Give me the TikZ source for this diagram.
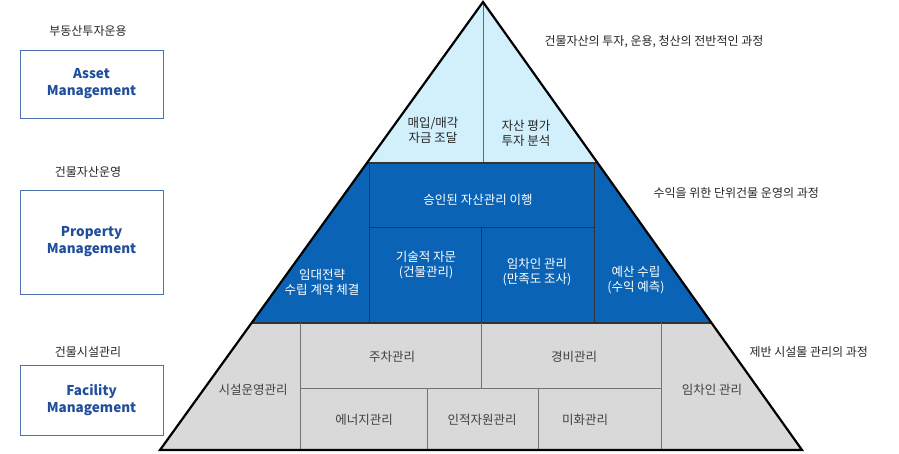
\documentclass[tikz,border=0pt]{standalone}
\usepackage{fontspec}
\setmainfont{Noto Sans CJK KR}
\definecolor{pmblue}{HTML}{0A63B5}
\definecolor{boxtxt}{HTML}{1F4E9C}
\begin{document}
\begin{tikzpicture}[x=1pt,y=-1pt,
  cell/.style={line width=0.8pt},
  wt/.style={text=white,font=\fontsize{12.5}{15}\selectfont,align=center},
  gt/.style={text=black!75,font=\fontsize{12.5}{15}\selectfont,align=center},
  ct/.style={text=black!85,font=\fontsize{12.5}{15}\selectfont,align=center},
  lab/.style={text=black!85,font=\fontsize{12}{14}\selectfont,anchor=west},
  mbox/.style={draw=boxtxt!80,line width=0.8pt,minimum width=143pt,text=boxtxt,font=\bfseries\fontsize{13.5}{17}\selectfont,align=center}]
\useasboundingbox (0,0) rectangle (899,453);
\fill[white] (0,0) rectangle (899,453);
% tiers
\fill[cyan!18] (483,2) -- (367,163) -- (598,163) -- cycle;
\fill[pmblue] (367,163) -- (252,323) -- (712,323) -- (598,163) -- cycle;
\fill[black!15] (252,323) -- (160,450) -- (802,450) -- (712,323) -- cycle;
% internal lines
\draw[cell,black!60] (483,2) -- (483,163);
\draw[line width=1.5pt,black!80] (367,163) -- (598,163);
\draw[cell,black!80] (369,163) -- (369,323) (594,163) -- (594,323) (369,227) -- (594,227) (481,227) -- (481,323);
\draw[line width=1.5pt,black!80] (252,323) -- (712,323);
\draw[cell,black!55] (300,323) -- (300,450) (661,323) -- (661,450) (300,388) -- (661,388)
  (481,323) -- (481,388) (427,388) -- (427,450) (538,388) -- (538,450);
\draw[line width=2.2pt,line join=miter] (483,2) -- (160,450) -- (802,450) -- cycle;
% top tier
\node[ct] (a1) at (433,130) {매입/매각\\자금 조달};
\node[ct] (a2) at (526,133) {자산 평가\\투자 분석};
% PM tier
\node[wt] (p1) at (478,200) {승인된 자산관리 이행};
\node[wt] (p2) at (322,282) {임대전략\\수립 계약 체결};
\node[wt] (p3) at (426,265) {기술적 자문\\(건물관리)};
\node[wt] (p4) at (537,272) {임차인 관리\\(만족도 조사)};
\node[wt] (p5) at (636,280) {예산 수립\\(수익 예측)};
% FM tier
\node[gt] (f1) at (253,390) {시설운영관리};
\node[gt] (f2) at (392,357) {주차관리};
\node[gt] (f3) at (574,357) {경비관리};
\node[gt] (f4) at (712,390) {임차인 관리};
\node[gt] (f5) at (364,420) {에너지관리};
\node[gt] (f6) at (482,420) {인적자원관리};
\node[gt] (f7) at (585,420) {미화관리};
% right labels
\node[lab] (r1) at (541,42) {건물자산의 투자, 운용, 청산의 전반적인 과정};
\node[lab] (r2) at (650,193) {수익을 위한 단위건물 운영의 과정};
\node[lab] (r3) at (746,352) {제반 시설물 관리의 과정};
% left boxes
\node[mbox,minimum height=68pt] (b1) at (91.5,84) {Asset\\Management};
\node[mbox,minimum height=104pt] (b2) at (91.5,242) {Property\\Management};
\node[mbox,minimum height=70pt] (b3) at (91.5,400) {Facility\\Management};
\node[ct,font=\fontsize{12}{14}\selectfont] (l1) at (88,31) {부동산투자운용};
\node[ct,font=\fontsize{12}{14}\selectfont] (l2) at (88,172) {건물자산운영};
\node[ct,font=\fontsize{12}{14}\selectfont] (l3) at (88,352) {건물시설관리};
\end{tikzpicture}
\end{document}
